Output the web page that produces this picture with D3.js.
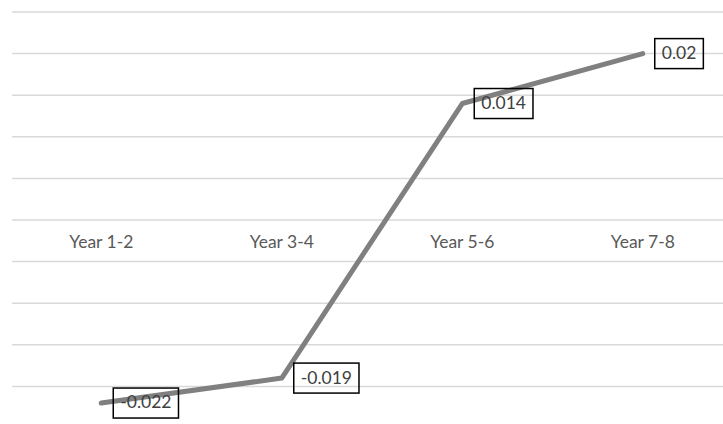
<!DOCTYPE html>
<html>
<head>
<meta charset="utf-8">
<script src="https://cdn.jsdelivr.net/npm/d3@7"></script>
<style>
  body { margin: 0; background: #fff; }
  svg { display: block; font-family: Lato, "Liberation Sans", sans-serif; }
</style>
</head>
<body>
<div id="chart"></div>
<script>
const categories = ["Year 1-2", "Year 3-4", "Year 5-6", "Year 7-8"];
const values = [-0.022, -0.019, 0.014, 0.02];
const gridTicks = [-0.02, -0.015, -0.01, -0.005, 0, 0.005, 0.01, 0.015, 0.02, 0.025];

const width = 723, height = 424;

const svg = d3.select("#chart")
  .append("svg")
  .attr("width", width)
  .attr("height", height);

const x = d3.scaleBand()
  .domain(categories)
  .range([11, 733]);

const y = d3.scaleLinear()
  .domain([-0.025, 0.025])
  .range([428, 12]);

// gridlines
svg.append("g")
  .selectAll("line")
  .data(gridTicks)
  .enter()
  .append("line")
  .attr("x1", 12)
  .attr("x2", 733)
  .attr("y1", d => y(d))
  .attr("y2", d => y(d))
  .attr("stroke", "#d9d9d9")
  .attr("stroke-width", 1.5);

// category axis at zero
const xAxis = svg.append("g")
  .attr("transform", `translate(0,${y(0)})`)
  .call(d3.axisBottom(x).tickSize(0).tickPadding(16));
xAxis.select(".domain").remove();
xAxis.selectAll("text")
  .attr("fill", "#595959")
  .style("font-size", "17.5px")
  .style("font-family", "Lato, 'Liberation Sans', sans-serif");

// line
const cx = (d, i) => x(categories[i]) + x.bandwidth() / 2;
const line = d3.line()
  .x((d, i) => cx(d, i))
  .y(d => y(d));

svg.append("path")
  .datum(values)
  .attr("d", line)
  .attr("fill", "none")
  .attr("stroke", "#808080")
  .attr("stroke-width", 5)
  .attr("stroke-linecap", "round")
  .attr("stroke-linejoin", "round");

// data labels
const labels = svg.append("g");
values.forEach((v, i) => {
  const g = labels.append("g");
  const t = g.append("text")
    .attr("x", cx(v, i) + 19)
    .attr("y", y(v) + 1)
    .attr("dominant-baseline", "middle")
    .attr("fill", "#404040")
    .style("font-size", "17.5px")
    .text(String(v));
  const b = t.node().getBBox();
  g.insert("rect", "text")
    .attr("x", cx(v, i) + 12)
    .attr("y", y(v) - 15)
    .attr("width", b.width + 14)
    .attr("height", 30)
    .attr("fill", "none")
    .attr("stroke", "#000")
    .attr("stroke-width", 1.5);
});
</script>
</body>
</html>
